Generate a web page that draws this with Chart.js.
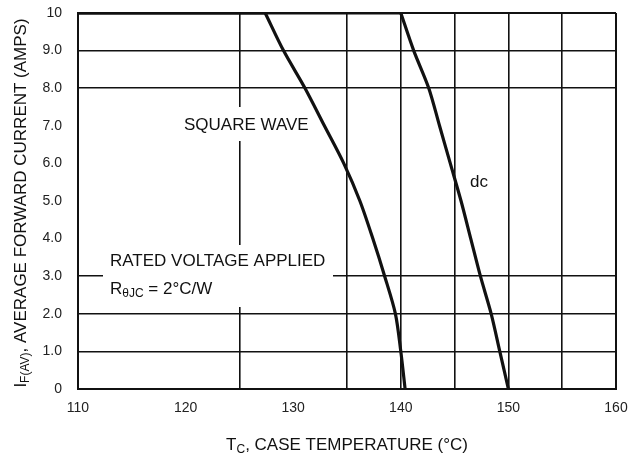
<!DOCTYPE html>
<html>
<head>
<meta charset="utf-8">
<script src="https://cdn.jsdelivr.net/npm/chart.js@4"></script>
<style>
  html, body { margin: 0; padding: 0; background: #fff; }
  #wrap { width: 632px; height: 461px; }
</style>
</head>
<body>
<div id="wrap"><canvas id="chart" width="632" height="461"></canvas></div>
<script>
    // data
    const tempTicks = [110, 120, 130, 140, 150, 160];
    const xGridValues = [110, 125, 135, 140, 145, 150, 155, 160];
    const yGridValues = [0, 1, 2, 3, 8, 9, 10];
    const currentTickLabels = ['0', '1.0', '2.0', '3.0', '4.0', '5.0', '6.0', '7.0', '8.0', '9.0', '10'];

    const squareWaveTemp = [110, 127.4, 129.1, 131.1, 132.9, 134.7, 136.2, 137.4, 138.5, 139.5, 140.0, 140.4];
    const squareWaveAmps = [10, 10, 9, 8, 7, 6, 5, 4, 3, 2, 1, 0];
    const dcTemp = [110, 140.0, 141.2, 142.6, 143.6, 144.6, 145.6, 146.5, 147.4, 148.4, 149.2, 150.0];
    const dcAmps = [10, 10, 9, 8, 7, 6, 5, 4, 3, 2, 1, 0];

    const FONT = '"Liberation Sans", Arial, sans-serif';
    const INK = '#111';
    const MAIN = 17, SUB = 12;

    const toPoints = (xs, ys) => xs.map((x, i) => ({ x: x, y: ys[i] }));

    // text with subscript parts
    function drawRich(ctx, parts, x, y, align) {
        let total = 0;
        parts.forEach(p => {
            ctx.font = (p.sub ? SUB : MAIN) + 'px ' + FONT;
            p.w = ctx.measureText(p.text).width;
            total += p.w;
        });
        let cx = align === 'center' ? x - total / 2 : x;
        ctx.textAlign = 'left';
        ctx.textBaseline = 'middle';
        parts.forEach(p => {
            ctx.font = (p.sub ? SUB : MAIN) + 'px ' + FONT;
            ctx.fillText(p.text, cx, p.sub ? y + 5 : y);
            cx += p.w;
        });
    }

    const labelsPlugin = {
        id: 'labels',
        beforeDatasetsDraw(chart) {
            const ctx = chart.ctx;
            ctx.save();
            // gaps in the grid behind the notes
            ctx.fillStyle = '#fff';
            ctx.fillRect(180, 107, 132, 34);
            ctx.fillRect(103, 245, 230, 62);

            ctx.fillStyle = INK;
            drawRich(ctx, [{ text: 'SQUARE WAVE' }], 184, 125, 'left');
            drawRich(ctx, [{ text: 'RATED VOLTAGE APPLIED' }], 110, 261, 'left');
            drawRich(ctx, [{ text: 'R' }, { text: 'θJC', sub: true }, { text: ' = 2°C/W' }], 110, 289, 'left');
            drawRich(ctx, [{ text: 'dc' }], 470, 182, 'left');
            ctx.restore();
        },
        afterDraw(chart) {
            const ctx = chart.ctx;
            const area = chart.chartArea;
            ctx.save();
            ctx.fillStyle = INK;
            drawRich(ctx, [{ text: 'T' }, { text: 'C', sub: true }, { text: ', CASE TEMPERATURE (°C)' }],
                (area.left + area.right) / 2, 445, 'center');
            ctx.translate(21, (area.top + area.bottom) / 2 + 2);
            ctx.rotate(-Math.PI / 2);
            drawRich(ctx, [{ text: 'I' }, { text: 'F(AV)', sub: true }, { text: ', AVERAGE FORWARD CURRENT (AMPS)' }],
                0, 0, 'center');
            ctx.restore();
        }
    };

    const curveStyle = {
        borderColor: INK,
        borderWidth: 3.2,
        pointRadius: 0,
        showLine: true,
        fill: false
    };

    // flat part along the 10 A line, then the falling part
    const datasets = [
        Object.assign({ label: 'SQUARE WAVE', data: toPoints(squareWaveTemp.slice(0, 2), squareWaveAmps.slice(0, 2)), tension: 0 }, curveStyle),
        Object.assign({ label: 'SQUARE WAVE', data: toPoints(squareWaveTemp.slice(1), squareWaveAmps.slice(1)), tension: 0.3 }, curveStyle),
        Object.assign({ label: 'dc', data: toPoints(dcTemp.slice(0, 2), dcAmps.slice(0, 2)), tension: 0 }, curveStyle),
        Object.assign({ label: 'dc', data: toPoints(dcTemp.slice(1), dcAmps.slice(1)), tension: 0.3 }, curveStyle)
    ];

    new Chart(document.getElementById('chart'), {
        type: 'scatter',
        data: { datasets: datasets },
        options: {
            responsive: false,
            animation: false,
            devicePixelRatio: 1,
            layout: { padding: { top: 13, right: 16, left: 0, bottom: 0 } },
            plugins: {
                legend: { display: false },
                tooltip: { enabled: false }
            },
            scales: {
                x: {
                    type: 'linear',
                    min: 110,
                    max: 160,
                    afterFit: s => { s.height = 72; s.paddingLeft = 0; s.paddingRight = 0; },
                    ticks: {
                        stepSize: 5,
                        autoSkip: false,
                        maxRotation: 0,
                        padding: 11,
                        color: '#222',
                        font: { family: FONT, size: 14 },
                        callback: v => tempTicks.includes(v) ? String(v) : ''
                    },
                    grid: {
                        drawTicks: false,
                        color: c => xGridValues.includes(c.tick.value) ? INK : 'rgba(0,0,0,0)',
                        lineWidth: c => (c.tick.value === 110 || c.tick.value === 160) ? 2 : 1.6
                    },
                    border: { color: INK, width: 2 }
                },
                y: {
                    type: 'linear',
                    min: 0,
                    max: 10,
                    afterFit: s => { s.width = 78; s.paddingTop = 0; s.paddingBottom = 0; },
                    ticks: {
                        stepSize: 1,
                        autoSkip: false,
                        padding: 16,
                        color: '#222',
                        font: { family: FONT, size: 14 },
                        callback: v => currentTickLabels[v]
                    },
                    grid: {
                        drawTicks: false,
                        color: c => yGridValues.includes(c.tick.value) ? INK : 'rgba(0,0,0,0)',
                        lineWidth: c => (c.tick.value === 0 || c.tick.value === 10) ? 2 : 1.6
                    },
                    border: { color: INK, width: 2 }
                }
            }
        },
        plugins: [labelsPlugin]
    });
</script>
</body>
</html>
